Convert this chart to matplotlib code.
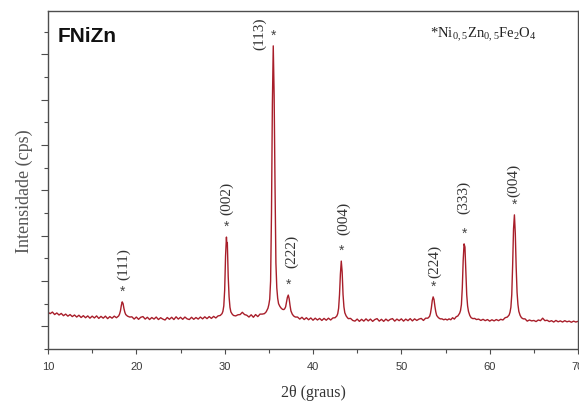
import numpy as np
import matplotlib.pyplot as plt
from matplotlib.ticker import MultipleLocator

plt.rcParams["mathtext.default"] = "regular"

# XRD pattern (2theta in degrees, intensity in cps)
two_theta = [
    # 10 - 17.75
    10.0, 10.25, 10.5, 10.75, 11.0, 11.25, 11.5, 11.75, 12.0, 12.25, 12.5, 12.75,
    13.0, 13.25, 13.5, 13.75, 14.0, 14.25, 14.5, 14.75, 15.0, 15.25, 15.5, 15.75,
    16.0, 16.25, 16.5, 16.75, 17.0, 17.25, 17.5, 17.75,
    # (111)
    18.0, 18.1, 18.2, 18.3, 18.4, 18.5, 18.6, 18.7, 18.8, 19.0, 19.25,
    # 19.5 - 29.25
    19.5, 19.75, 20.0, 20.25, 20.5, 20.75, 21.0, 21.25, 21.5, 21.75, 22.0, 22.25,
    22.5, 22.75, 23.0, 23.25, 23.5, 23.75, 24.0, 24.25, 24.5, 24.75, 25.0, 25.25,
    25.5, 25.75, 26.0, 26.25, 26.5, 26.75, 27.0, 27.25, 27.5, 27.75, 28.0, 28.25,
    28.5, 28.75, 29.0, 29.25,
    # (002)
    29.5, 29.7, 29.8, 29.9, 30.0, 30.1, 30.2, 30.25, 30.3, 30.4, 30.5, 30.6, 30.7,
    30.85, 31.0, 31.25,
    31.5, 31.75, 32.0, 32.25, 32.5, 32.75, 33.0, 33.25, 33.5, 33.75, 34.0, 34.25,
    # (113) and (222)
    34.5, 34.7, 34.9, 35.0, 35.1, 35.2, 35.3, 35.4, 35.5, 35.6, 35.7, 35.8, 35.9,
    36.0, 36.1, 36.25, 36.4, 36.55, 36.7, 36.8, 36.9, 37.0, 37.1, 37.2, 37.3, 37.4,
    37.5, 37.65, 37.8, 38.0,
    38.25, 38.5, 38.75, 39.0, 39.25, 39.5, 39.75, 40.0, 40.25, 40.5, 40.75, 41.0,
    41.25, 41.5, 41.75, 42.0, 42.25, 42.5,
    # (004)
    42.7, 42.8, 42.9, 43.0, 43.1, 43.2, 43.3, 43.4, 43.5, 43.6, 43.75, 43.9, 44.0,
    44.25, 44.5, 44.75, 45.0, 45.25, 45.5, 45.75, 46.0, 46.25, 46.5, 46.75, 47.0,
    47.25, 47.5, 47.75, 48.0, 48.25, 48.5, 48.75, 49.0, 49.25, 49.5, 49.75, 50.0,
    50.25, 50.5, 50.75, 51.0, 51.25, 51.5, 51.75, 52.0, 52.25, 52.5, 52.75,
    # (224)
    53.0, 53.2, 53.3, 53.4, 53.5, 53.6, 53.7, 53.8, 53.9, 54.0, 54.2, 54.4,
    54.6, 54.8, 55.0, 55.2, 55.4, 55.6, 55.8, 56.0, 56.2,
    # (333)
    56.4, 56.6, 56.7, 56.8, 56.9, 57.0, 57.1, 57.2, 57.3, 57.4, 57.5, 57.6, 57.75,
    57.9, 58.1,
    58.3, 58.5, 58.75, 59.0, 59.25, 59.5, 59.75, 60.0, 60.25, 60.5, 60.75, 61.0,
    61.25, 61.5, 61.75,
    # (004)
    62.0, 62.2, 62.3, 62.4, 62.5, 62.6, 62.7, 62.8, 62.9, 63.0, 63.1, 63.2, 63.3,
    63.45, 63.6, 63.8,
    64.0, 64.25, 64.5, 64.75, 65.0, 65.25, 65.5, 65.75, 66.0, 66.25, 66.5, 66.75,
    67.0, 67.25, 67.5, 67.75, 68.0, 68.25, 68.5, 68.75, 69.0, 69.25, 69.5, 69.75,
    70.0,
]

counts = [
    810, 780, 815, 760, 795, 750, 785, 735, 770, 725, 760, 715,
    750, 705, 745, 695, 735, 690, 730, 680, 725, 685, 730, 675,
    720, 680, 725, 670, 715, 680, 725, 690,
    730, 770, 840, 960, 1040, 1000, 890, 810, 760, 725, 705,
    710, 660, 705, 655, 700, 715, 660, 700, 650, 695, 660, 705,
    650, 690, 660, 640, 695, 655, 700, 650, 710, 660, 700, 655,
    705, 665, 650, 700, 655, 695, 660, 705, 665, 710, 670, 715,
    675, 720, 685, 730,
    740, 780, 830, 950, 1300, 2050, 2470, 2300, 2350, 1600, 1150, 920, 820,
    770, 740, 730,
    755, 760, 810, 760, 745, 705, 755, 700, 760, 715, 770, 770,
    780, 820, 900, 980, 1100, 1500, 3000, 5400, 6690, 5600, 3600, 1900, 1350,
    1120, 1000, 940, 900, 875, 870, 890, 930, 1030, 1140, 1190, 1110, 960,
    840, 770, 730, 705,
    705, 660, 700, 650, 690, 645, 685, 635, 680, 640, 675, 630,
    675, 635, 680, 640, 685, 690,
    730, 780, 900, 1200, 1650, 1940, 1700, 1200, 930, 800, 730, 690, 670,
    675, 630, 615, 660, 610, 655, 615, 665, 620, 660, 610, 650,
    670, 615, 655, 610, 660, 620, 655, 670, 615, 660, 625, 665,
    615, 660, 625, 670, 620, 665, 630, 660, 675, 630, 680,
    680, 720, 790, 910, 1070, 1150, 1090, 940, 820, 740, 690, 665,
    665, 645, 660, 640, 665, 645, 690, 660, 710,
    730, 790, 850, 980, 1350, 1950, 2320, 2250, 1700, 1200, 950, 830, 740,
    690, 670,
    675, 650, 660, 630, 655, 625, 650, 615, 645, 620, 650, 625,
    655, 640, 690,
    705, 750, 810, 920, 1200, 1850, 2650, 2960, 2550, 1800, 1250, 980, 830,
    740, 690, 665,
    665, 615, 640, 620, 630, 605, 640, 625, 680, 625, 635, 605,
    625, 595, 630, 600, 620, 595, 625, 600, 615, 590, 615, 595,
    610,
]

peak_theta = [18.4, 30.2, 35.5, 37.2, 43.2, 53.6, 57.1, 62.8]
peak_hkl = ["(111)", "(002)", "(113)", "(222)", "(004)", "(224)", "(333)", "(004)"]

# label placement in pixels relative to the peak top: (dx, dy)
label_offsets = [(1, 22), (0, 22), (-14, -4), (3, 27), (2, 26), (1, 19), (0, 30), (-1, 18)]

two_theta = np.array(two_theta)
counts = np.array(counts)

fig = plt.figure(figsize=(5.79, 4.01), dpi=100)
ax = fig.add_axes([0.0829, 0.1297, 0.9154, 0.8429])

ax.plot(two_theta, counts, color="#a81e2a", lw=1.0)

ax.set_xlim(10, 70)
ax.set_ylim(0, 7460)
ax.xaxis.set_major_locator(MultipleLocator(10))
ax.xaxis.set_minor_locator(MultipleLocator(5))
ax.set_yticks(np.arange(500, 7000, 1000))
ax.set_yticks(np.arange(0, 7500, 1000), minor=True)
ax.set_yticklabels([])

spine_col = "#4d4d4d"
for sp in ax.spines.values():
    sp.set_color(spine_col)
    sp.set_linewidth(1.0)
ax.tick_params(axis="x", which="major", length=3.6, width=0.8, color=spine_col,
               labelsize=8, labelcolor="#3a3a3a", pad=6)
ax.tick_params(axis="x", which="minor", length=3.2, width=0.8, color=spine_col)
ax.tick_params(axis="y", which="major", length=5, width=0.8, color=spine_col)
ax.tick_params(axis="y", which="minor", length=3, width=0.8, color=spine_col)
for lbl in ax.get_xticklabels():
    lbl.set_fontfamily("Liberation Sans")

ax.set_xlabel("2θ (graus)", family="Liberation Serif", fontsize=11.5,
              color="#333333", labelpad=9)
ax.set_ylabel("Intensidade (cps)", family="Liberation Serif", fontsize=13,
              color="#555555")
ax.yaxis.set_label_coords(-0.029, 0.467)

# star and hkl label over each peak
for p, hkl, (dx, dy) in zip(peak_theta, peak_hkl, label_offsets):
    i = np.argmin(np.abs(two_theta - p))
    top = counts[i]
    ax.annotate("*", (two_theta[i], top), xytext=(0, 10 * 0.72),
                textcoords="offset points", ha="center", va="center",
                fontsize=10, color="#444444", family="Liberation Sans")
    ax.annotate(hkl, (two_theta[i], top), xytext=(dx * 0.72, dy * 0.72),
                textcoords="offset points", ha="center", va="bottom",
                rotation=90, fontsize=11, color="#333333",
                family="Liberation Serif")

fig.text(58 / 579, 1 - 42 / 401, "FNiZn", fontsize=15, fontweight="bold",
         family="Liberation Sans", color="#111111", va="baseline")
fig.text(430 / 579, 1 - 38 / 401, "*Ni$_{0,5}$Zn$_{0,5}$Fe$_2$O$_4$",
         fontsize=10.5, family="Liberation Serif", color="#222222",
         va="baseline")

fig.savefig("out.png", dpi=100)
